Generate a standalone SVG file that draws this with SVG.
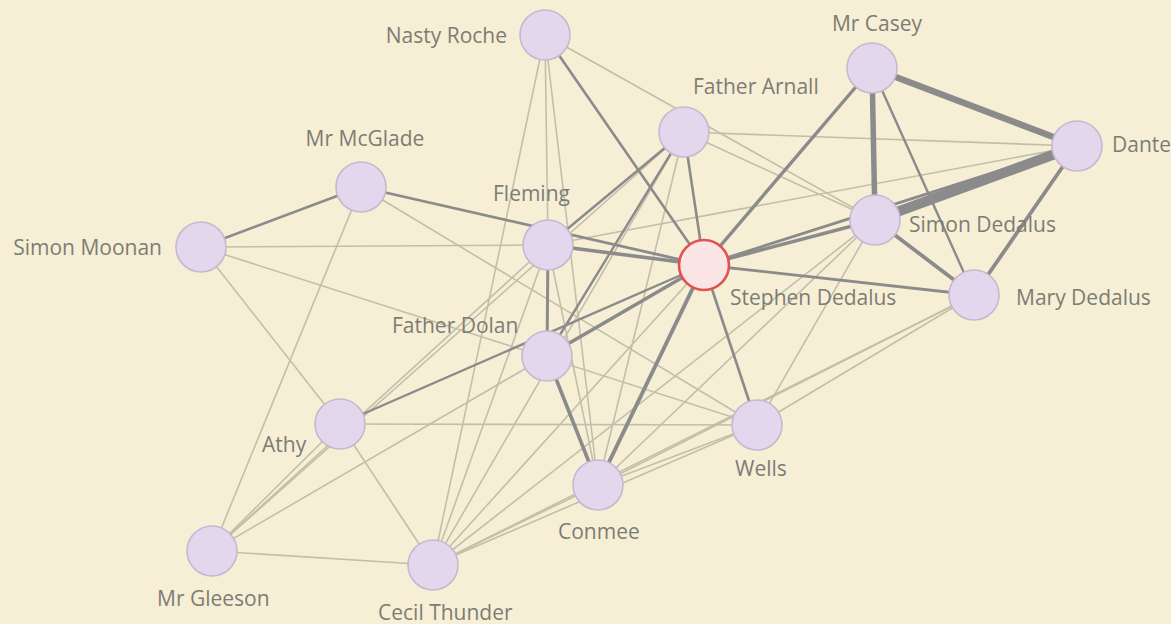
<svg xmlns="http://www.w3.org/2000/svg" width="1171" height="624" viewBox="0 0 1171 624">
<style>
.bg{fill:#f6efd6}
.t{stroke:#c2bfa9;stroke-width:1.6;fill:none}
.m{stroke:#8b8b8b;fill:none;stroke-linecap:round}
.n{fill:#e3d7ee;stroke:#c8b8cf;stroke-width:1.6}
.hero{fill:#fbe4e4;stroke:#e0524f;stroke-width:2.6}
text{font-family:"Open Sans","Liberation Sans",sans-serif;font-size:21px;fill:#7d7c74}
</style>
<rect class="bg" x="0" y="0" width="1171" height="624"/>
<g id="connectors">
<!-- thin -->
<line class="t" x1="545" y1="35" x2="548" y2="245"/>
<line class="t" x1="545" y1="35" x2="598" y2="485"/>
<line class="t" x1="545" y1="35" x2="433" y2="565"/>
<line class="t" x1="545" y1="35" x2="875" y2="220"/>
<line class="t" x1="684" y1="132" x2="1077" y2="146"/>
<line class="t" x1="684" y1="132" x2="875" y2="220"/>
<line class="t" x1="684" y1="132" x2="598" y2="485"/>
<line class="t" x1="548" y1="245" x2="1077" y2="146"/>
<line class="t" x1="548" y1="245" x2="598" y2="485"/>
<line class="t" x1="201" y1="247" x2="548" y2="245"/>
<line class="t" x1="201" y1="247" x2="340" y2="424"/>
<line class="t" x1="201" y1="247" x2="757" y2="425"/>
<line class="t" x1="361" y1="187" x2="757" y2="425"/>
<line class="t" x1="361" y1="187" x2="212" y2="551"/>
<line class="t" x1="212" y1="551" x2="340" y2="424"/>
<line class="t" x1="212" y1="551" x2="548" y2="245"/>
<line class="t" x1="212" y1="551" x2="684" y2="132"/>
<line class="t" x1="212" y1="551" x2="547" y2="356"/>
<line class="t" x1="212" y1="551" x2="433" y2="565"/>
<line class="t" x1="340" y1="424" x2="433" y2="565"/>
<line class="t" x1="340" y1="424" x2="757" y2="425"/>
<line class="t" x1="433" y1="565" x2="548" y2="245"/>
<line class="t" x1="433" y1="565" x2="684" y2="132"/>
<line class="t" x1="433" y1="565" x2="704" y2="265"/>
<line class="t" x1="433" y1="565" x2="598" y2="485"/>
<line class="t" x1="433" y1="565" x2="757" y2="425"/>
<line class="t" x1="433" y1="565" x2="974" y2="295"/>
<line class="t" x1="433" y1="565" x2="875" y2="220"/>
<line class="t" x1="598" y1="485" x2="875" y2="220"/>
<line class="t" x1="598" y1="485" x2="974" y2="295"/>
<line class="t" x1="598" y1="485" x2="757" y2="425"/>
<line class="t" x1="757" y1="425" x2="875" y2="220"/>
<line class="t" x1="757" y1="425" x2="974" y2="295"/>
<!-- medium / heavy -->
<line class="m" style="stroke-width:2.6" x1="201" y1="247" x2="361" y2="187"/>
<line class="m" style="stroke-width:2.8" x1="361" y1="187" x2="704" y2="265"/>
<line class="m" style="stroke-width:2.4" x1="340" y1="424" x2="704" y2="265"/>
<line class="m" style="stroke-width:2.6" x1="545" y1="35" x2="704" y2="265"/>
<line class="m" style="stroke-width:2.6" x1="684" y1="132" x2="704" y2="265"/>
<line class="m" style="stroke-width:2.4" x1="684" y1="132" x2="548" y2="245"/>
<line class="m" style="stroke-width:2.4" x1="684" y1="132" x2="547" y2="356"/>
<line class="m" style="stroke-width:3.6" x1="548" y1="245" x2="704" y2="265"/>
<line class="m" style="stroke-width:3" x1="548" y1="245" x2="547" y2="356"/>
<line class="m" style="stroke-width:3.6" x1="547" y1="356" x2="704" y2="265"/>
<line class="m" style="stroke-width:3.6" x1="547" y1="356" x2="598" y2="485"/>
<line class="m" style="stroke-width:4" x1="704" y1="265" x2="598" y2="485"/>
<line class="m" style="stroke-width:2.6" x1="704" y1="265" x2="757" y2="425"/>
<line class="m" style="stroke-width:2.8" x1="704" y1="265" x2="974" y2="295"/>
<line class="m" style="stroke-width:3.4" x1="704" y1="265" x2="872" y2="68"/>
<line class="m" style="stroke-width:3.6" x1="704" y1="265" x2="875" y2="220"/>
<line class="m" style="stroke-width:2.8" x1="704" y1="265" x2="1077" y2="146"/>
<line class="m" style="stroke-width:2.4" x1="872" y1="68" x2="974" y2="295"/>
<line class="m" style="stroke-width:5.5" x1="872" y1="68" x2="875" y2="220"/>
<line class="m" style="stroke-width:6.5" x1="872" y1="68" x2="1077" y2="146"/>
<line class="m" style="stroke-width:10" x1="875" y1="220" x2="1077" y2="146"/>
<line class="m" style="stroke-width:3.8" x1="875" y1="220" x2="974" y2="295"/>
<line class="m" style="stroke-width:3.8" x1="1077" y1="146" x2="974" y2="295"/>
</g>
<g id="node-nasty-roche"><circle class="n" cx="545" cy="35" r="25"/><text x="507" y="43" text-anchor="end">Nasty Roche</text></g>
<g id="node-mr-casey"><circle class="n" cx="872" cy="68" r="25"/><text x="877" y="31" text-anchor="middle">Mr Casey</text></g>
<g id="node-father-arnall"><circle class="n" cx="684" cy="132" r="25"/><text x="693" y="94">Father Arnall</text></g>
<g id="node-dante"><circle class="n" cx="1077" cy="146" r="25"/><text x="1112" y="152">Dante</text></g>
<g id="node-mr-mcglade"><circle class="n" cx="361" cy="187" r="25"/><text x="365" y="146" text-anchor="middle">Mr McGlade</text></g>
<g id="node-simon-moonan"><circle class="n" cx="201" cy="247" r="25"/><text x="162" y="255" text-anchor="end">Simon Moonan</text></g>
<g id="node-fleming"><circle class="n" cx="548" cy="245" r="25"/><text x="493" y="201">Fleming</text></g>
<g id="node-simon-dedalus"><circle class="n" cx="875" cy="220" r="25"/><text x="909" y="232">Simon Dedalus</text></g>
<g id="node-mary-dedalus"><circle class="n" cx="974" cy="295" r="25"/><text x="1016" y="305">Mary Dedalus</text></g>
<g id="node-father-dolan"><circle class="n" cx="547" cy="356" r="25"/><text x="392" y="333">Father Dolan</text></g>
<g id="node-athy"><circle class="n" cx="340" cy="424" r="25"/><text x="262" y="452">Athy</text></g>
<g id="node-wells"><circle class="n" cx="757" cy="425" r="25"/><text x="735" y="476">Wells</text></g>
<g id="node-conmee"><circle class="n" cx="598" cy="485" r="25"/><text x="558" y="539">Conmee</text></g>
<g id="node-mr-gleeson"><circle class="n" cx="212" cy="551" r="25"/><text x="157" y="606">Mr Gleeson</text></g>
<g id="node-cecil-thunder"><circle class="n" cx="433" cy="565" r="25"/><text x="378" y="620">Cecil Thunder</text></g>
<g id="node-stephen-dedalus"><circle class="hero" cx="704" cy="265" r="25"/><text x="730" y="305">Stephen Dedalus</text></g>
</svg>
